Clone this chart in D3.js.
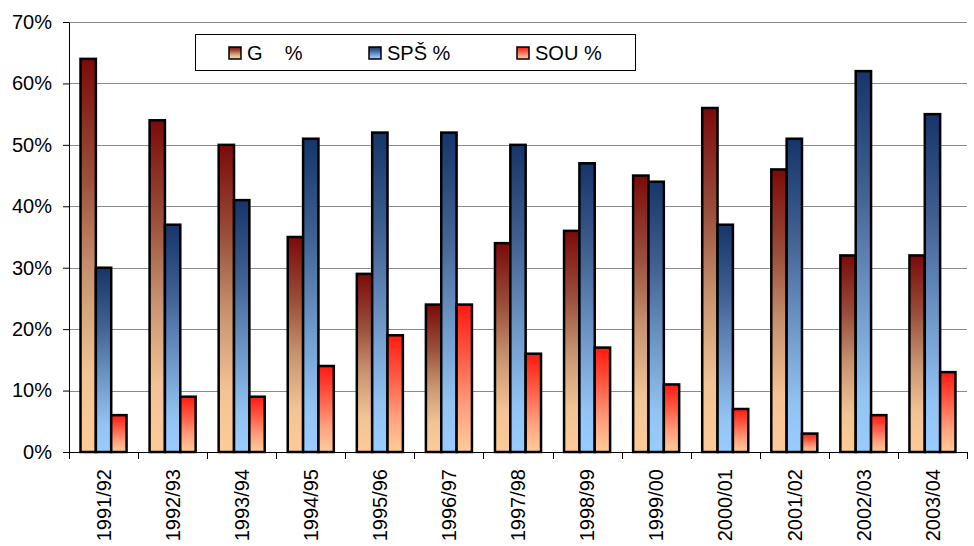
<!DOCTYPE html>
<html>
<head>
<meta charset="utf-8">
<script src="https://cdn.jsdelivr.net/npm/d3@7"></script>
<style>
  html, body { margin: 0; padding: 0; background: #fff; }
  svg { display: block; font-family: "Liberation Sans", Arial, sans-serif; }
</style>
</head>
<body>
<svg id="chart" width="974" height="546"></svg>
<script>
// School years and share of pupils by school type
const years = ["1991/92","1992/93","1993/94","1994/95","1995/96","1996/97","1997/98",
               "1998/99","1999/00","2000/01","2001/02","2002/03","2003/04"];
const gValues   = [64, 54, 50, 35, 29, 24, 34, 36, 45, 56, 46, 32, 32];
const spsValues = [30, 37, 41, 51, 52, 52, 50, 47, 44, 37, 51, 62, 55];
const souValues = [ 6,  9,  9, 14, 19, 24, 16, 17, 11,  7,  3,  6, 13];
const seriesNames = ["G    %", "SPŠ %", "SOU %"];
const yTicks = [0, 10, 20, 30, 40, 50, 60, 70];

const series = [
  { key: "g",   name: seriesNames[0], values: gValues,
    stops: [[0, "#7c0a0a"], [0.3, "#9a4f3b"], [0.55, "#c89470"], [0.8, "#f2c394"], [1, "#fdcb97"]] },
  { key: "sps", name: seriesNames[1], values: spsValues,
    stops: [[0, "#16356a"], [0.3, "#3e5f90"], [0.6, "#6e97c8"], [0.85, "#92c3f3"], [1, "#99ccff"]] },
  { key: "sou", name: seriesNames[2], values: souValues,
    stops: [[0, "#ff1a10"], [0.35, "#ff5a44"], [0.7, "#ffa07e"], [1, "#ffcc99"]] }
];

const svg = d3.select("#chart");
const margin = { left: 69, top: 22, right: 7, bottom: 94 };
const W = 974, H = 546;
const plotW = W - margin.left - margin.right;
const plotH = H - margin.top - margin.bottom;

// gradient definitions, one per series, applied per bar
const defs = svg.append("defs");
series.forEach(s => {
  const lg = defs.append("linearGradient")
    .attr("id", "grad-" + s.key)
    .attr("x1", 0).attr("y1", 0).attr("x2", 0).attr("y2", 1);
  s.stops.forEach(([o, c]) => lg.append("stop").attr("offset", o).attr("stop-color", c));
});

const x = d3.scaleBand().domain(years).range([0, plotW]).padding(0);
const y = d3.scaleLinear().domain([0, 70]).range([plotH, 0]);

const step = x.bandwidth();
const barW = step / 4.5;          // three bars plus a 150% gap
const groupOffset = barW * 0.75;

const g = svg.append("g").attr("transform", `translate(${margin.left},${margin.top})`);

// horizontal gridlines
g.append("g")
  .selectAll("line")
  .data(yTicks.filter(t => t > 0))
  .join("line")
  .attr("x1", 0).attr("x2", plotW)
  .attr("y1", d => Math.round(y(d)) + 0.5).attr("y2", d => Math.round(y(d)) + 0.5)
  .attr("stroke", "#8a8a8a").attr("stroke-width", 1);

// bars
series.forEach((s, si) => {
  g.append("g")
    .selectAll("rect")
    .data(s.values.map((v, i) => ({ year: years[i], v })))
    .join("rect")
    .attr("x", d => x(d.year) + groupOffset + si * barW)
    .attr("y", d => y(d.v))
    .attr("width", barW)
    .attr("height", d => plotH - y(d.v))
    .attr("fill", `url(#grad-${s.key})`)
    .attr("stroke", "#000")
    .attr("stroke-width", 2.5);
});

// y axis
const yAxis = g.append("g")
  .call(d3.axisLeft(y).tickValues(yTicks).tickFormat(d => d + "%").tickSize(6).tickPadding(11).tickSizeOuter(0));
yAxis.select(".domain").attr("stroke", "#000");
yAxis.selectAll(".tick line").attr("stroke", "#000");
yAxis.selectAll("text").attr("font-size", 20).attr("fill", "#000")
  .attr("font-family", "'Liberation Sans', Arial, sans-serif");

// x axis with ticks on category boundaries
const xAxisG = g.append("g").attr("transform", `translate(0,${plotH})`);
xAxisG.append("line")
  .attr("x1", 0).attr("x2", plotW).attr("y1", 0.5).attr("y2", 0.5)
  .attr("stroke", "#000");
xAxisG.selectAll("line.tick")
  .data(d3.range(years.length + 1))
  .join("line")
  .attr("class", "tick")
  .attr("x1", i => Math.round(i * step) + 0.5).attr("x2", i => Math.round(i * step) + 0.5)
  .attr("y1", 0).attr("y2", 7)
  .attr("stroke", "#000");
xAxisG.selectAll("text")
  .data(years)
  .join("text")
  .attr("transform", d => `translate(${x(d) + step / 2},17) rotate(-90)`)
  .attr("text-anchor", "end")
  .attr("dy", "0.36em")
  .attr("font-size", 20)
  .attr("fill", "#000")
  .text(d => d);

// legend
const legend = svg.append("g");
legend.append("rect")
  .attr("x", 195.5).attr("y", 34.5).attr("width", 440).attr("height", 36)
  .attr("fill", "#fff").attr("stroke", "#000").attr("stroke-width", 1);
const legendX = [229, 369, 517];
series.forEach((s, i) => {
  legend.append("rect")
    .attr("x", legendX[i]).attr("y", 47).attr("width", 12).attr("height", 12)
    .attr("fill", `url(#grad-${s.key})`)
    .attr("stroke", "#000").attr("stroke-width", 1.5);
  legend.append("text")
    .attr("x", legendX[i] + 18).attr("y", 60)
    .attr("font-size", 20)
    .style("white-space", "pre")
    .attr("fill", "#000")
    .text(s.name);
});
</script>
</body>
</html>
